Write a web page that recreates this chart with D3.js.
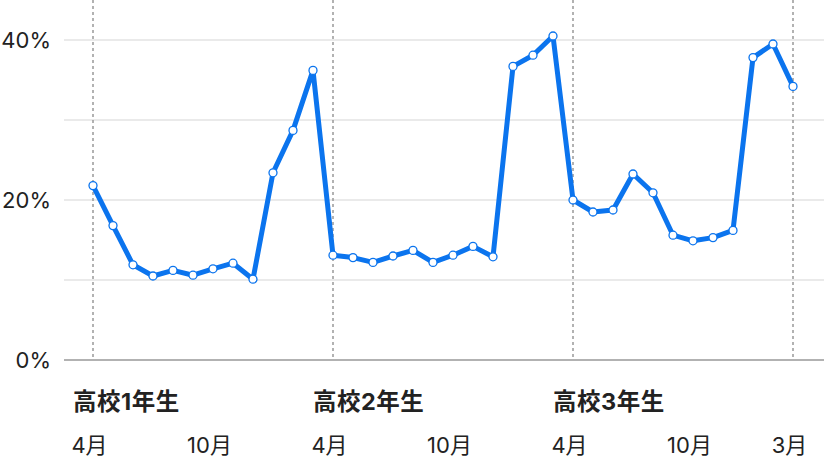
<!DOCTYPE html>
<html>
<head>
<meta charset="utf-8">
<script src="https://cdn.jsdelivr.net/npm/d3@7"></script>
<style>
  html, body { margin: 0; padding: 0; background: #fff; }
  svg { display: block; font-family: Inter, "Noto Sans CJK JP", sans-serif; }
</style>
</head>
<body>
<svg id="chart"></svg>
<script>
// 高校1年4月 〜 高校3年3月 の月ごとの値 (%)
const rates = [
    21.8, 16.8, 11.9, 10.5, 11.2, 10.6, 11.4, 12.1, 10.1, 23.4, 28.7, 36.2,
    13.1, 12.8, 12.2, 13.0, 13.7, 12.2, 13.1, 14.2, 12.9, 36.7, 38.1, 40.5,
    20.0, 18.5, 18.75, 23.25, 20.9, 15.6, 14.9, 15.3, 16.2, 37.8, 39.5, 34.2
];
const yearLabels = ["高校1年生", "高校2年生", "高校3年生"];
const yearStarts = [0, 12, 24];
const monthTicks = [0, 6, 12, 18, 24, 30, 35];
const monthLabels = ["4月", "10月", "4月", "10月", "4月", "10月", "3月"];
const dividers = [0, 12, 24, 35];
const yTicks = [0, 20, 40];
const yGrid = [10, 20, 30, 40];

const width = 824;
const height = 466;
const blue = "#0b74ee";
const fontFamily = "Inter, Noto Sans CJK JP, sans-serif";

let svg = d3.select("#chart").attr("width", width).attr("height", height);

let x = d3.scaleLinear().domain([0, rates.length - 1]).range([93, 793]);
let y = d3.scaleLinear().domain([0, 45]).range([360, 0]);

// グリッド
svg.append("g")
    .selectAll("line")
    .data(yGrid)
    .join("line")
    .attr("x1", 64).attr("x2", width)
    .attr("y1", d => y(d)).attr("y2", d => y(d))
    .attr("stroke", "#e3e3e3")
    .attr("stroke-width", 1.5);

// 縦の点線
svg.append("g")
    .selectAll("line")
    .data(dividers)
    .join("line")
    .attr("x1", d => x(d)).attr("x2", d => x(d))
    .attr("y1", 0).attr("y2", y(0))
    .attr("stroke", "#999")
    .attr("stroke-width", 1.5)
    .attr("stroke-dasharray", "3,3");

// 0% の線
svg.append("line")
    .attr("x1", 64).attr("x2", width)
    .attr("y1", y(0)).attr("y2", y(0))
    .attr("stroke", "#999")
    .attr("stroke-width", 1.5);

// Y軸ラベル
let axisY = d3.axisLeft(y).tickValues(yTicks).tickFormat(d => d + "%").tickSize(0).tickPadding(0);
let gy = svg.append("g").attr("transform", "translate(51,0)").call(axisY);
gy.select(".domain").remove();
gy.selectAll("text")
    .attr("dy", "0.36em")
    .attr("font-family", fontFamily)
    .attr("font-size", 22)
    .attr("fill", "#222");

// 月ラベル
let axisX = d3.axisBottom(x).tickValues(monthTicks)
    .tickFormat((d, i) => monthLabels[i]).tickSize(0).tickPadding(0);
let gx = svg.append("g").attr("transform", "translate(-4,453)").call(axisX);
gx.select(".domain").remove();
gx.selectAll("text")
    .attr("dy", 0)
    .attr("font-family", fontFamily)
    .attr("font-size", 22)
    .attr("fill", "#222");

// 学年ラベル
svg.append("g")
    .selectAll("text")
    .data(yearStarts)
    .join("text")
    .attr("x", d => x(d) - 20)
    .attr("y", 410)
    .attr("font-family", fontFamily)
    .attr("font-size", 23.5)
    .attr("font-weight", "bold")
    .attr("letter-spacing", 0.5)
    .attr("fill", "#222")
    .text((d, i) => yearLabels[i]);

// 折れ線
let line = d3.line()
    .x((d, i) => x(i))
    .y(d => y(d));

svg.append("path")
    .datum(rates)
    .attr("d", line)
    .attr("fill", "none")
    .attr("stroke", blue)
    .attr("stroke-width", 5)
    .attr("stroke-linejoin", "round");

svg.append("g")
    .selectAll("circle")
    .data(rates)
    .join("circle")
    .attr("cx", (d, i) => x(i))
    .attr("cy", d => y(d))
    .attr("r", 4)
    .attr("fill", "#fff")
    .attr("stroke", blue)
    .attr("stroke-width", 1.3);
</script>
</body>
</html>
